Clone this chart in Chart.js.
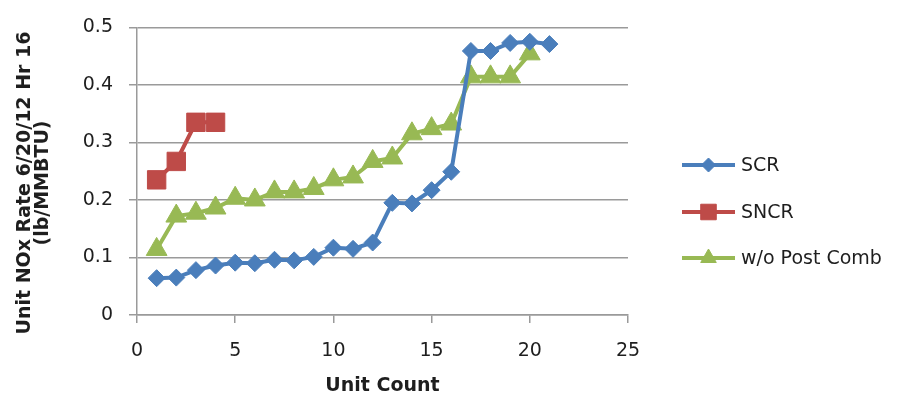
<!DOCTYPE html>
<html><head><meta charset="utf-8">
<script src="https://cdn.jsdelivr.net/npm/chart.js@4.4.0/dist/chart.umd.min.js"></script>
<style>html,body{margin:0;padding:0;background:#fff}#wrap{width:909px;height:399px}</style>
</head><body><div id="wrap"><canvas id="c" width="909" height="399"></canvas></div>
<script>
const seriesNames = ['SCR', 'SNCR', 'w/o Post Comb'];
const scrUnits = [1,2,3,4,5,6,7,8,9,10,11,12,13,14,15,16,17,18,19,20,21];
const scrRates = [0.064,0.065,0.078,0.086,0.091,0.090,0.096,0.095,0.101,0.117,0.115,0.126,0.195,0.194,0.217,0.249,0.459,0.459,0.473,0.475,0.471];
const sncrUnits = [1,2,3,4];
const sncrRates = [0.235,0.267,0.335,0.335];
const woUnits = [1,2,3,4,5,6,7,8,9,10,11,12,13,14,15,16,17,18,19,20];
const woRates = [0.114,0.172,0.177,0.186,0.203,0.200,0.214,0.214,0.220,0.235,0.240,0.267,0.273,0.315,0.324,0.332,0.414,0.414,0.414,0.454];
const yTickLabels = ['0','0.1','0.2','0.3','0.4','0.5'];
const xTickLabels = ['0','5','10','15','20','25'];
const yTitleLines = ['Unit NOx Rate 6/20/12 Hr 16', '(lb/MMBTU)'];
const xTitleText = 'Unit Count';

const colors = ['#4A7EBB', '#BE4B48', '#98B954'];
const FONT = "'DejaVu Sans', Verdana, sans-serif";
const GRID = '#9a9a9a';
const TEXT = '#1e1e1e';

function pts(xs, ys) { return xs.map((x, i) => ({x: x, y: ys[i]})); }

const legendStyles = [
  {style: 'rectRot', r: 7},
  {style: 'rect', r: 11},
  {style: 'triangle', r: 9}
];

const customPlugin = {
  id: 'custom',
  afterDraw(chart) {
    const ctx = chart.ctx;
    ctx.save();
    ctx.fillStyle = TEXT;
    ctx.font = "bold 19px " + FONT;
    ctx.textAlign = 'center';
    ctx.textBaseline = 'middle';
    const cy = 183;
    const xs = [25, 43];
    yTitleLines.forEach((t, i) => {
      ctx.save();
      ctx.translate(xs[i], cy);
      ctx.rotate(-Math.PI / 2);
      ctx.fillText(t, 0, 0);
      ctx.restore();
    });
    ctx.restore();
    const ys = [165, 212, 258];
    chart.data.datasets.forEach((ds, i) => {
      const y = ys[i];
      ctx.save();
      ctx.strokeStyle = ds.borderColor;
      ctx.lineWidth = 4;
      ctx.beginPath();
      ctx.moveTo(682, y);
      ctx.lineTo(735, y);
      ctx.stroke();
      ctx.fillStyle = ds.borderColor;
      ctx.strokeStyle = ds.borderColor;
      ctx.lineWidth = 1;
      Chart.helpers.drawPoint(ctx, {pointStyle: legendStyles[i].style, radius: legendStyles[i].r, rotation: 0, borderWidth: 1}, 708.5, y);
      ctx.fillStyle = TEXT;
      ctx.font = "19px " + FONT;
      ctx.textAlign = 'left';
      ctx.textBaseline = 'middle';
      ctx.fillText(ds.label, 741, y + 1);
      ctx.restore();
    });
  }
};

new Chart(document.getElementById('c'), {
  type: 'scatter',
  data: {
    datasets: [
      {label: seriesNames[0], data: pts(scrUnits, scrRates), showLine: true, borderColor: colors[0], backgroundColor: colors[0], borderWidth: 4, pointStyle: 'rectRot', pointRadius: 8.5, pointBorderWidth: 1},
      {label: seriesNames[1], data: pts(sncrUnits, sncrRates), showLine: true, borderColor: colors[1], backgroundColor: colors[1], borderWidth: 4, pointStyle: 'rect', pointRadius: 13, pointBorderWidth: 1},
      {label: seriesNames[2], data: pts(woUnits, woRates), showLine: true, borderColor: colors[2], backgroundColor: colors[2], borderWidth: 4, pointStyle: 'triangle', pointRadius: 12, pointBorderWidth: 1}
    ]
  },
  options: {
    responsive: false,
    animation: false,
    devicePixelRatio: 1,
    layout: {padding: {left: 0, top: 19, right: 281, bottom: 0}},
    plugins: {legend: {display: false}, tooltip: {enabled: false}},
    scales: {
      x: {
        type: 'linear', min: 0, max: 25,
        ticks: {stepSize: 5, color: TEXT, font: {family: FONT, size: 19}, padding: 17,
          callback: (v) => xTickLabels[Math.round(v / 5)] },
        grid: {drawOnChartArea: false, drawTicks: true, tickLength: 8, color: GRID, lineWidth: 1.5},
        border: {display: true, color: GRID, width: 1.5},
        title: {display: true, text: xTitleText, color: TEXT, font: {family: FONT, size: 19, weight: 'bold'}, padding: {top: 4, bottom: 2}},
        afterFit: (s) => { s.height = 84; }
      },
      y: {
        type: 'linear', min: 0, max: 0.5,
        ticks: {stepSize: 0.1, color: TEXT, font: {family: FONT, size: 19}, padding: 16,
          callback: (v) => yTickLabels[Math.round(v * 10)] },
        grid: {drawOnChartArea: true, drawTicks: true, tickLength: 8, color: GRID, lineWidth: 1.5},
        border: {display: true, color: GRID, width: 1.5},
        afterFit: (s) => { s.width = 137; }
      }
    }
  },
  plugins: [customPlugin]
});
</script></body></html>
